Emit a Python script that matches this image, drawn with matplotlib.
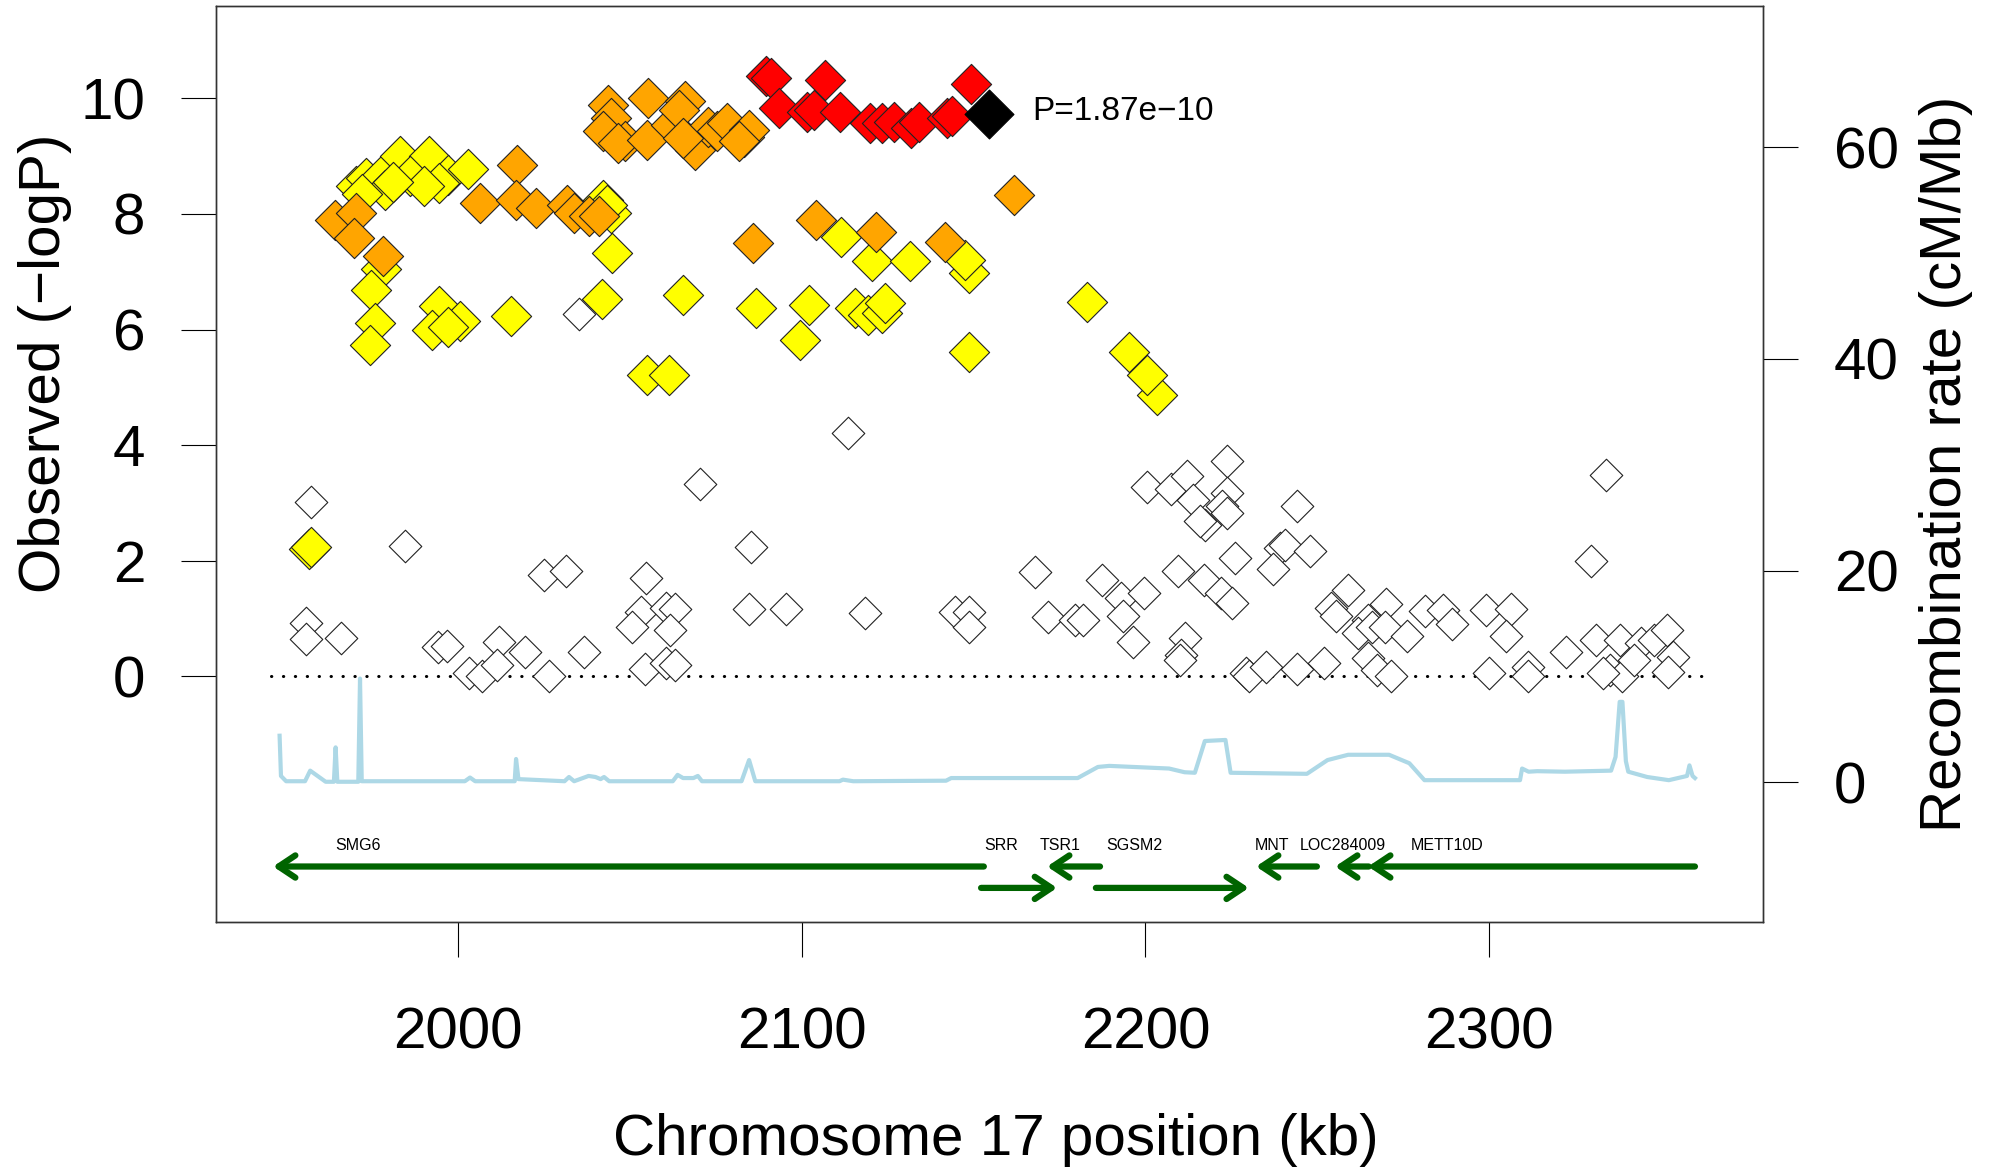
import numpy as np
import matplotlib
matplotlib.use("Agg")
import matplotlib.pyplot as plt

plt.rcParams['font.family'] = ['Liberation Sans', 'DejaVu Sans']

# SNPs by LD class (position in kb, -log10 P)
white_kb = [2035.3, 1957.3, 1984.5, 1955.8, 1955.8, 1965.9, 1994.1, 1996.9, 2003.3, 2007.1,
            2012.0, 2011.3, 2019.5, 2026.5, 2025.1, 2031.3, 2036.7, 2054.7, 2053.3, 2050.5,
            2060.6, 2063.2, 2061.8, 2054.3, 2060.6, 2063.0, 2070.5, 2085.3, 2084.6, 2095.5,
            2113.5, 2118.5, 2144.6, 2148.8, 2148.8,
            2167.8, 2171.6, 2179.4, 2181.9, 2187.4, 2192.8, 2199.5, 2193.5, 2196.4, 2200.5,
            2207.6, 2212.1, 2223.8, 2213.9, 2223.8, 2222.4, 2217.4, 2216.0, 2223.8, 2209.4,
            2226.2, 2217.2, 2222.0, 2225.2, 2211.4, 2210.4, 2210.0, 2244.2, 2239.3, 2240.7,
            2247.8, 2237.2, 2229.2, 2230.1, 2235.1, 2244.2, 2252.0, 2259.0, 2254.1, 2255.5,
            2264.7, 2270.0, 2261.9, 2265.8, 2269.6, 2276.0, 2264.7, 2267.5, 2271.4, 2281.3,
            2286.5, 2289.1, 2299.0, 2306.3, 2304.9, 2299.9, 2311.2, 2311.2, 2322.5, 2331.0,
            2329.8, 2334.1, 2338.0, 2344.3, 2347.9, 2351.8, 2353.5, 2335.2, 2338.7, 2352.1,
            2333.1, 2342.2]
white_p = [6.27, 3.01, 2.25, 0.93, 0.64, 0.67, 0.50, 0.53, 0.06, 0.01,
           0.60, 0.20, 0.43, 0.01, 1.76, 1.83, 0.42, 1.71, 1.12, 0.86,
           1.18, 1.16, 0.81, 0.13, 0.23, 0.20, 3.33, 2.23, 1.16, 1.16,
           4.21, 1.09, 1.12, 1.12, 0.85,
           1.81, 1.02, 0.98, 0.98, 1.67, 1.35, 1.44, 1.04, 0.60, 3.27,
           3.24, 3.46, 3.73, 3.06, 3.17, 2.94, 2.62, 2.68, 2.82, 1.83,
           2.05, 1.67, 1.44, 1.27, 0.66, 0.37, 0.29, 2.94, 2.22, 2.28,
           2.17, 1.86, 0.06, 0.00, 0.17, 0.12, 0.23, 1.50, 1.18, 1.04,
           0.98, 1.25, 0.75, 0.86, 0.86, 0.69, 0.32, 0.11, 0.01, 1.13,
           1.15, 0.90, 1.15, 1.17, 0.69, 0.06, 0.17, 0.00, 0.43, 0.63,
           1.99, 3.48, 0.63, 0.58, 0.63, 0.81, 0.34, 0.11, 0.00, 0.07,
           0.06, 0.29]

yellow_kb = [1956.8, 1957.3,
             1970.4, 1973.2, 1977.5, 1983.1, 1991.6, 1985.9, 1997.2, 2002.8, 1994.4, 1978.9,
             1990.2, 1972.0, 1981.0,
             2042.3, 2044.4, 2043.5,
             1977.5, 1974.6, 1975.8, 1974.4,
             1994.4, 1992.3, 2000.7, 1997.2, 2015.5,
             2044.7, 2042.0, 2065.6, 2055.0, 2061.4, 2086.7, 2102.2, 2099.4,
             2111.4, 2120.6, 2131.6, 2115.6, 2119.2, 2123.4, 2124.1,
             2148.8, 2147.4, 2148.8, 2182.9, 2195.3, 2203.3, 2200.5]
yellow_p = [2.21, 2.23,
            8.48, 8.62, 8.65, 9.00, 9.00, 8.65, 8.68, 8.77, 8.53, 8.42,
            8.48, 8.35, 8.55,
            8.25, 8.02, 8.15,
            7.04, 6.69, 6.11, 5.74,
            6.40, 6.00, 6.14, 6.05, 6.24,
            7.32, 6.53, 6.60, 5.22, 5.22, 6.37, 6.43, 5.82,
            7.61, 7.18, 7.18, 6.37, 6.26, 6.29, 6.46,
            6.98, 7.21, 5.62, 6.48, 5.62, 4.87, 5.22]

orange_kb = [2043.7, 2055.4, 2066.0, 2044.4, 2042.3, 2048.7, 2046.6, 2055.0, 2062.1, 2064.2,
             2069.1, 2072.6, 2075.5, 2078.3, 2083.2, 2084.6, 2081.8, 2065.6,
             2017.2, 1964.1, 1970.4, 1969.7, 1978.2, 2006.4, 2016.9, 2022.6, 2031.8, 2033.9,
             2038.1, 2040.9, 2085.7, 2104.1, 2121.6, 2141.7, 2161.8]
orange_p = [9.89, 10.00, 9.95, 9.66, 9.43, 9.26, 9.23, 9.28, 9.54, 9.80,
            9.11, 9.51, 9.43, 9.57, 9.34, 9.46, 9.26, 9.31,
            8.85, 7.90, 8.02, 7.58, 7.27, 8.19, 8.25, 8.10, 8.16, 8.02,
            7.96, 7.96, 7.50, 7.90, 7.68, 7.51, 8.32]

red_kb = [2089.6, 2091.0, 2106.8, 2149.2, 2093.4, 2101.5, 2103.7, 2111.1, 2119.9, 2123.4,
          2126.9, 2131.9, 2134.0, 2142.4, 2143.8]
red_p = [10.39, 10.35, 10.31, 10.25, 9.83, 9.77, 9.80, 9.77, 9.57, 9.57,
         9.60, 9.49, 9.60, 9.66, 9.69]

lead_kb = 2154.5
lead_p = 9.73
lead_label = "P=1.87e\u221210"

# recombination rate (cM/Mb)
rec_kb = [1948.1, 1948.5, 1950.0, 1955.5, 1957.0, 1961.5, 1963.9, 1964.4, 1964.9, 1971.0,
          1971.5, 1972.0, 2002.0, 2003.5, 2005.0, 2016.5, 2016.9, 2017.6, 2031.0, 2032.3,
          2033.8, 2038.0, 2040.0, 2041.5, 2042.5, 2044.0, 2062.5, 2063.9, 2065.5, 2068.5,
          2069.8, 2071.0, 2082.5, 2084.7, 2086.5, 2111.0, 2112.0, 2115.0, 2142.0, 2143.5,
          2180.3, 2186.2, 2189.5, 2206.9, 2211.4, 2214.4, 2217.3, 2223.3, 2224.8, 2247.0,
          2253.0, 2259.0, 2270.9, 2276.8, 2281.2, 2309.0, 2309.6, 2311.5, 2314.0, 2322.0,
          2335.5, 2336.8, 2338.0, 2338.8, 2339.8, 2340.5, 2346.0, 2352.3, 2357.6, 2358.3,
          2359.2, 2359.9]
rec_rate = [4.4, 0.6, 0.1, 0.1, 1.1, 0.05, 0.05, 3.3, 0.05, 0.05,
            9.8, 0.1, 0.1, 0.45, 0.1, 0.1, 2.2, 0.3, 0.1, 0.5,
            0.1, 0.6, 0.5, 0.3, 0.5, 0.1, 0.1, 0.7, 0.4, 0.4,
            0.6, 0.1, 0.1, 2.1, 0.1, 0.1, 0.25, 0.1, 0.15, 0.4,
            0.4, 1.45, 1.55, 1.3, 0.95, 0.9, 3.9, 4.0, 0.9, 0.8,
            2.1, 2.6, 2.6, 1.8, 0.2, 0.2, 1.3, 1.0, 1.05, 1.0,
            1.1, 2.4, 7.6, 7.6, 2.0, 1.0, 0.5, 0.2, 0.6, 1.6,
            0.6, 0.4]

# genes: arrow from tail to tip (tip = direction of transcription)
gene_names = ["SMG6", "SRR", "TSR1", "SGSM2", "MNT", "LOC284009", "METT10D"]
gene_tail = [2153.0, 2152.2, 2186.8, 2185.6, 2249.9, 2265.0, 2359.9]
gene_tip = [1946.2, 2174.3, 2171.4, 2230.1, 2232.2, 2255.2, 2264.8]
gene_row = [0, 1, 0, 1, 0, 0, 0]
gene_label_x = [1971.0, 2158.0, 2175.2, 2196.9, 2236.7, 2257.5, 2287.8]
row_y = [-3.29, -3.66]
label_y = -2.93
region = (1945.7, 2362.0)

fig = plt.figure(figsize=(19.96, 11.68), dpi=100)
ax = fig.add_axes([0.10822, 0.21062, 0.77505, 0.78382])
ax.set_xlim(1929.6, 2379.7)
ax.set_ylim(-4.25, 11.59)

ax.hlines(0, region[0], region[1], colors='black', linewidth=2.2,
          linestyles=[(0, (0.1, 3.8))], capstyle='round')

edge = '#222222'
ax.scatter(white_kb, white_p, marker='D', s=275, facecolor='white', edgecolor=edge, linewidth=0.8, zorder=3)
ax.scatter(yellow_kb, yellow_p, marker='D', s=420, facecolor='#FFFF00', edgecolor=edge, linewidth=0.8, zorder=4)
ax.scatter(orange_kb, orange_p, marker='D', s=420, facecolor='#FFA500', edgecolor=edge, linewidth=0.8, zorder=5)
ax.scatter(red_kb, red_p, marker='D', s=420, facecolor='#FF0000', edgecolor=edge, linewidth=0.8, zorder=6)
ax.scatter([lead_kb], [lead_p], marker='D', s=620, facecolor='black', edgecolor='black', linewidth=0.8, zorder=7)
ax.text(lead_kb + 12.5, lead_p + 0.04, lead_label, fontsize=24, va='center', ha='left', zorder=8)

for name, tail, tip, row, lx in zip(gene_names, gene_tail, gene_tip, gene_row, gene_label_x):
    y = row_y[row]
    ax.annotate('', xy=(tip, y), xytext=(tail, y),
                arrowprops=dict(arrowstyle='->,head_length=1.2,head_width=0.8',
                                color='#006400', lw=4.5, shrinkA=0, shrinkB=0,
                                mutation_scale=10))
    ax.text(lx, label_y, name, fontsize=11.5, ha='center', va='center')

ax.set_xticks([2000, 2100, 2200, 2300])
ax.set_yticks([0, 2, 4, 6, 8, 10])
ax.tick_params(axis='x', direction='out', length=25, width=0.8, labelsize=42, pad=36)
ax.tick_params(axis='y', direction='out', length=25, width=0.8, labelsize=42, pad=26)
for sp in ax.spines.values():
    sp.set_linewidth(1.0)
    sp.set_color('#333333')

ax2 = ax.twinx()
ax2.set_ylim(-13.2, 73.3)
ax2.plot(rec_kb, rec_rate, color='#ADD8E6', linewidth=3, zorder=1)
ax2.set_yticks([0, 20, 40, 60])
ax2.tick_params(axis='y', direction='out', length=25, width=0.8, labelsize=42, pad=26)
for sp in ax2.spines.values():
    sp.set_linewidth(1.0)
    sp.set_color('#333333')

fig.text(0.0223, 0.6888, "Observed (\u2212logP)", rotation=90, fontsize=42, ha='center', va='center')
fig.text(0.9747, 0.6027, "Recombination rate (cM/Mb)", rotation=90, fontsize=42, ha='center', va='center')
fig.text(0.4990, 0.0111, "Chromosome 17 position (kb)", fontsize=42, ha='center', va='baseline')

fig.savefig("out.png", dpi=100)
